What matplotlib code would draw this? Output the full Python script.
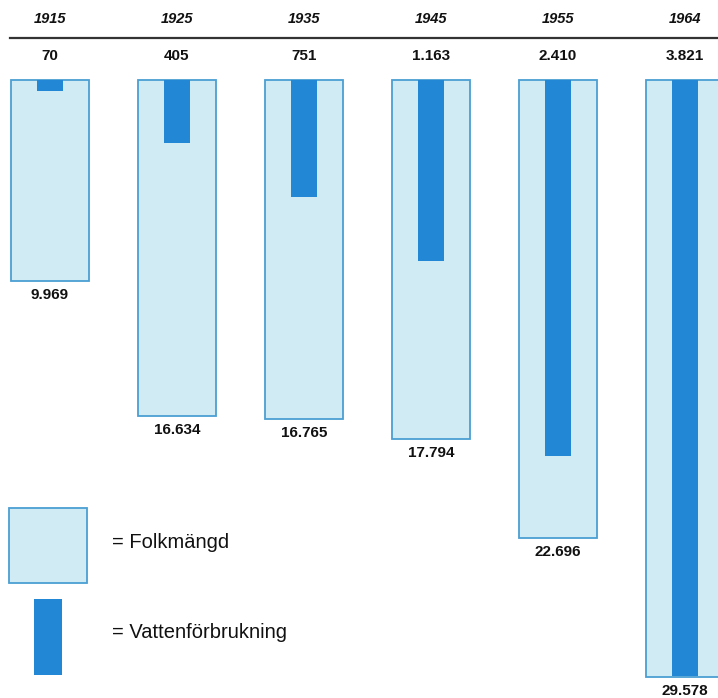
import matplotlib.pyplot as plt
from matplotlib.patches import Rectangle

years = ["1915", "1925", "1935", "1945", "1955", "1964"]
folkmangd = [9969, 16634, 16765, 17794, 22696, 29578]
vatten = [70, 405, 751, 1163, 2410, 3821]
folk_labels = ["9.969", "16.634", "16.765", "17.794", "22.696", "29.578"]
vatten_labels = ["70", "405", "751", "1.163", "2.410", "3.821"]

LIGHT = "#d0ebf4"
EDGE = "#4a9fd2"
DARK = "#2288d6"
INK = "#111111"

W, H = 718, 698
plt.rcParams["font.family"] = ["Liberation Sans", "DejaVu Sans"]

fig = plt.figure(figsize=(W / 100, H / 100), dpi=100)
fig.patch.set_facecolor("white")
ax = fig.add_axes([0, 0, 1, 1])
ax2 = ax.twinx()
for a in (ax, ax2):
    a.set_axis_off()

# horizontal layout: first bar centre at 50 px, 127 px between bars
step = 127
ax.set_xlim(-50 / step, (W - 50) / step)
top = 80
# population: ~20 px per 1000; water: 156 px per 1000
ax.set_ylim((H - top) / 0.0202, -top / 0.0202)
ax2.set_ylim((H - top) / 0.156, -top / 0.156)
ax2.set_xlim(ax.get_xlim())

x = list(range(len(years)))
ax.bar(x, folkmangd, width=0.62, bottom=0, color=LIGHT, edgecolor=EDGE,
       linewidth=1.3, align="center", zorder=2)
ax2.bar(x, vatten, width=0.205, bottom=0, color=DARK, linewidth=0,
        align="center", zorder=3)


def fy(px):
    return 1 - px / H


def fx(px):
    return px / W


for i, (yr, vl, fl, fv) in enumerate(zip(years, vatten_labels, folk_labels, folkmangd)):
    ax.text(i, -3000, yr, ha="center", va="center", fontsize=10.5,
            style="italic", weight="bold", color=INK)
    ax.text(i, -1200, vl, ha="center", va="center", fontsize=11,
            weight="bold", color=INK)
    ax.annotate(fl, (i, fv), xytext=(0, -5), textcoords="offset points",
                ha="center", va="top", fontsize=11, weight="bold",
                color=INK, annotation_clip=False)

ax.plot([fx(10), fx(718)], [fy(38), fy(38)], transform=ax.transAxes,
        color="#333333", lw=1.6, clip_on=False)

# legend
ax.add_patch(Rectangle((fx(9), fy(583)), fx(78), 75 / H, transform=ax.transAxes,
                       facecolor=LIGHT, edgecolor=EDGE, lw=1.3))
ax.add_patch(Rectangle((fx(34), fy(675)), fx(28), 76 / H, transform=ax.transAxes,
                       facecolor=DARK, edgecolor="none"))
ax.text(fx(112), fy(543), "= Folkmängd", transform=ax.transAxes,
        ha="left", va="center", fontsize=14.5, color=INK)
ax.text(fx(112), fy(633), "= Vattenförbrukning", transform=ax.transAxes,
        ha="left", va="center", fontsize=14.5, color=INK)

fig.savefig("out.png", dpi=100)
